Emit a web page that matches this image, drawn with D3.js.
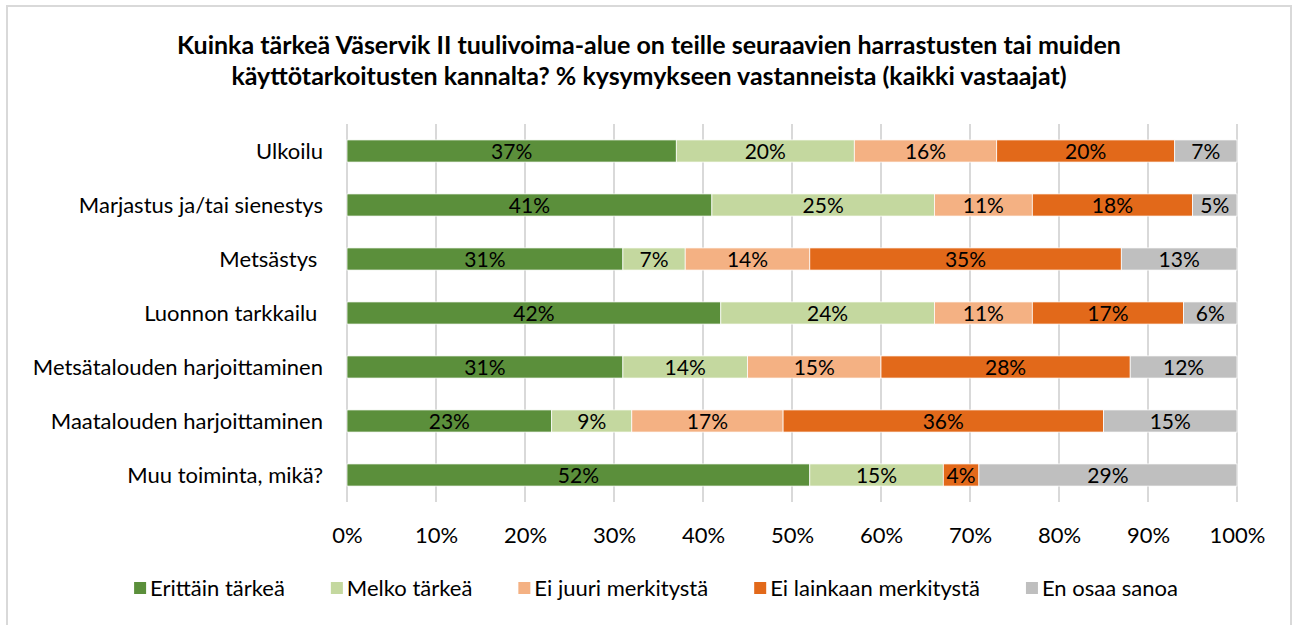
<!DOCTYPE html>
<html>
<head>
<meta charset="utf-8">
<script src="https://cdn.jsdelivr.net/npm/d3@7"></script>
<style>
  body { margin: 0; background: #fff; }
  text { font-family: Lato, "Open Sans", sans-serif; }
</style>
</head>
<body>
<div id="chart"></div>
<script>
var categories = ["Ulkoilu", "Marjastus ja/tai sienestys", "Metsästys ", "Luonnon tarkkailu ",
    "Metsätalouden harjoittaminen", "Maatalouden harjoittaminen", "Muu toiminta, mikä?"];
var seriesNames = ["Erittäin tärkeä", "Melko tärkeä", "Ei juuri merkitystä", "Ei lainkaan merkitystä", "En osaa sanoa"];
var erittainTarkea = [37, 41, 31, 42, 31, 23, 52];
var melkoTarkea = [20, 25, 7, 24, 14, 9, 15];
var eiJuuri = [16, 11, 14, 11, 15, 17, 0];
var eiLainkaan = [20, 18, 35, 17, 28, 36, 4];
var enOsaa = [7, 5, 13, 6, 12, 15, 29];
var xTicks = [0, 10, 20, 30, 40, 50, 60, 70, 80, 90, 100];
var colors = ["#5b8f3b", "#c4d89f", "#f4b183", "#e2691a", "#bfbfbf"];

function init() {
    var w = 1294, h = 625;
    var left = 347, right = 1237, top = 124, bottom = 502;
    var fs = 21;

    var svg = d3.select("#chart").append("svg")
        .attr("width", w)
        .attr("height", h);

    // outer frame like the Excel chart area
    svg.append("rect")
        .attr("x", 7).attr("y", 6)
        .attr("width", 1284).attr("height", 640)
        .attr("fill", "#fff")
        .attr("stroke", "#d9d9d9")
        .attr("stroke-width", 2);

    var title = svg.append("text")
        .attr("text-anchor", "middle")
        .attr("font-weight", "bold")
        .attr("font-size", 25)
        .attr("fill", "#000");
    title.append("tspan").attr("x", 649).attr("y", 54)
        .text("Kuinka tärkeä Väservik II tuulivoima-alue on teille seuraavien harrastusten tai muiden");
    title.append("tspan").attr("x", 649).attr("y", 85)
        .text("käyttötarkoitusten kannalta? % kysymykseen vastanneista (kaikki vastaajat)");

    var xScale = d3.scaleLinear().domain([0, 100]).range([left, right]);
    var yScale = d3.scaleBand().domain(categories).range([top, bottom]).paddingInner(0.59).paddingOuter(0.295);

    // gridlines
    svg.append("g")
        .selectAll("line")
        .data(xTicks)
        .enter()
        .append("line")
        .attr("x1", function(d) { return xScale(d); })
        .attr("x2", function(d) { return xScale(d); })
        .attr("y1", top)
        .attr("y2", bottom)
        .attr("stroke", "#d9d9d9")
        .attr("stroke-width", 2);

    var rows = [erittainTarkea, melkoTarkea, eiJuuri, eiLainkaan, enOsaa];
    var table = categories.map(function(c, i) {
        var o = { cat: c };
        seriesNames.forEach(function(s, j) { o[s] = rows[j][i]; });
        return o;
    });
    var stacked = d3.stack().keys(seriesNames)(table);

    var groups = svg.selectAll(".series")
        .data(stacked)
        .enter()
        .append("g")
        .attr("fill", function(d, i) { return colors[i]; });

    groups.selectAll("rect")
        .data(function(d) { return d; })
        .enter()
        .append("rect")
        .attr("x", function(d) { return xScale(d[0]); })
        .attr("y", function(d) { return yScale(d.data.cat); })
        .attr("width", function(d) { return xScale(d[1]) - xScale(d[0]); })
        .attr("height", yScale.bandwidth())
        .attr("stroke", "#fff")
        .attr("stroke-width", 0.75);

    groups.selectAll("text")
        .data(function(d) { return d.filter(function(p) { return p[1] - p[0] > 0; }); })
        .enter()
        .append("text")
        .attr("x", function(d) { return (xScale(d[0]) + xScale(d[1])) / 2; })
        .attr("y", function(d) { return yScale(d.data.cat) + yScale.bandwidth() / 2; })
        .attr("dy", "0.36em")
        .attr("text-anchor", "middle")
        .attr("font-size", fs)
        .attr("fill", "#000")
        .text(function(d) { return (d[1] - d[0]) + "%"; });

    // category labels
    svg.append("g")
        .selectAll("text")
        .data(categories)
        .enter()
        .append("text")
        .attr("x", 323)
        .attr("y", function(d) { return yScale(d) + yScale.bandwidth() / 2; })
        .attr("dy", "0.36em")
        .attr("text-anchor", "end")
        .attr("font-size", fs + 1)
        .attr("fill", "#000")
        .style("white-space", "pre")
        .text(function(d) { return d; });

    // x axis
    var xAxis = d3.axisBottom(xScale)
        .tickValues(xTicks)
        .tickSize(0)
        .tickPadding(0)
        .tickFormat(function(d) { return d + "%"; });
    var ax = svg.append("g")
        .attr("transform", "translate(0," + 535 + ")")
        .call(xAxis);
    ax.select(".domain").remove();
    ax.selectAll("text")
        .attr("font-family", "Lato, sans-serif")
        .attr("font-size", fs + 1)
        .attr("fill", "#000")
        .attr("dy", "0.36em");

    // legend
    var legend = svg.append("g");
    var items = legend.selectAll("g")
        .data(seriesNames)
        .enter()
        .append("g");
    items.append("rect")
        .attr("width", 12).attr("height", 12)
        .attr("y", -6)
        .attr("fill", function(d, i) { return colors[i]; });
    items.append("text")
        .attr("x", 16)
        .attr("dy", "0.36em")
        .attr("font-size", fs + 1)
        .attr("fill", "#000")
        .text(function(d) { return d; });
    var xPos = 0, gap = 46, positions = [];
    items.each(function() {
        positions.push(xPos);
        xPos += 16 + d3.select(this).select("text").node().getComputedTextLength() + gap;
    });
    var total = xPos - gap;
    var start = 656 - total / 2;
    items.attr("transform", function(d, i) { return "translate(" + (start + positions[i]) + ",588)"; });
}

window.onload = init;
</script>
</body>
</html>
